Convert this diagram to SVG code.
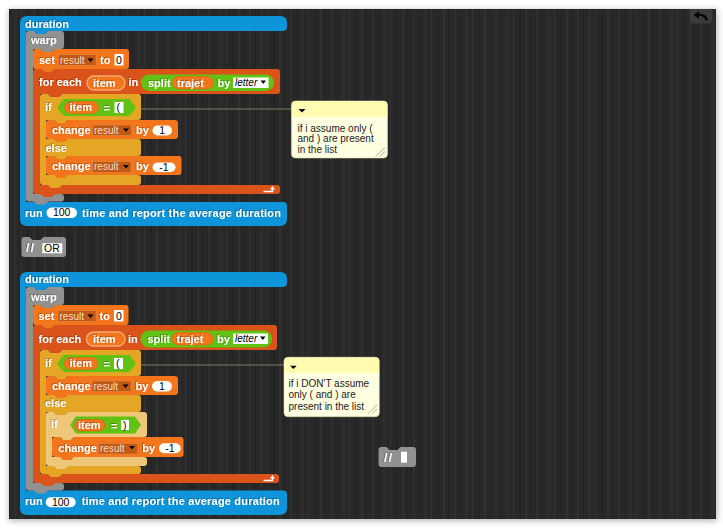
<svg xmlns="http://www.w3.org/2000/svg" width="723" height="528" viewBox="0 0 723 528">
<defs>
<pattern id="stripes" x="0" y="0" width="41" height="10" patternUnits="userSpaceOnUse">
<rect width="41" height="10" fill="#282828"/>
<rect x="3" width="2" height="10" fill="#2f2f2f"/>
<rect x="9" width="1" height="10" fill="#232323"/>
<rect x="14" width="3" height="10" fill="#2d2d2d"/>
<rect x="21" width="1" height="10" fill="#333333"/>
<rect x="27" width="2" height="10" fill="#242424"/>
<rect x="33" width="2" height="10" fill="#303030"/>
<rect x="38" width="1" height="10" fill="#222222"/>
</pattern>
<filter id="blur" x="-5%" y="-5%" width="110%" height="110%"><feGaussianBlur stdDeviation="3"/></filter>
<filter id="ts" x="-10%" y="-20%" width="120%" height="140%"><feDropShadow dx="-0.8" dy="-0.8" stdDeviation="0" flood-color="#000" flood-opacity="0.35"/></filter>
<style>
.l{font-family:"Liberation Sans",Arial,sans-serif;font-weight:bold;font-size:11px;fill:#fff;filter:url(#ts)}
.sl{font-family:"Liberation Sans",Arial,sans-serif;font-weight:bold;font-size:12px;letter-spacing:1.5px;fill:#fff;filter:url(#ts)}
.s{font-family:"Liberation Sans",Arial,sans-serif;font-size:10.5px;fill:#000}
.dd{font-family:"Liberation Sans",Arial,sans-serif;font-size:10px;fill:#f6dcc8}
.it{font-family:"Liberation Sans",Arial,sans-serif;font-size:10px;font-style:italic;fill:#000}
.c{font-family:"Liberation Sans",Arial,sans-serif;font-size:10px;fill:#222}
.blue{fill:#0d94d9}
.gray{fill:#919191}
.var{fill:#f3761d}
.list{fill:#d9531a}
.ctl{fill:#e5a626}
.ctl2{fill:#efc778}
.op{fill:#62c213}
.drop{fill:#bf5913;stroke:#e08a4a;stroke-width:0.6}
.slot{fill:#fff}
.oval{fill:#f3761d;stroke:#d8620f;stroke-width:0.6}
.upv{fill:#f3761d;stroke:#f8ab74;stroke-width:1.4}
.tri{fill:#000}
.cm{fill:#ffffe1;stroke:#d6d6a6;stroke-width:0.6}
.cmh{fill:#fffbb0}
.hdl{stroke:#9a9a80;stroke-width:0.8}
.wire{stroke:#7d7d66;stroke-width:1;fill:none}
</style>
</defs>

<g id="background">
<rect x="0" y="0" width="723" height="528" fill="#ffffff"/>
<rect x="9" y="10" width="708" height="511" fill="#000" opacity="0.3" filter="url(#blur)"/>
<rect x="9" y="9" width="707" height="510" fill="url(#stripes)"/>
</g>

<g id="undo-button">
<path d="M690,9 H712 V21 Q712,23.5 709.5,23.5 H692.5 Q690,23.5 690,21 Z" fill="#3b3b3b"/>
<polygon points="693.5,15 699,11.2 699,18.8" fill="#000"/>
<path d="M698,15 C703,14.6 706,16.2 707,20.5" stroke="#000" stroke-width="2.2" fill="none"/>
</g>

<g id="connectors">
<line class="wire" x1="141" y1="109" x2="291.5" y2="109"/>
<line class="wire" x1="141" y1="365" x2="284" y2="365"/>
</g>

<!-- ================= SCRIPT 1 ================= -->
<g id="s1-duration">
<path class="blue" d="M20,23 Q20,16 27,16 H280 Q287,16 287,23 V27 Q287,31 283,31 H48 L45,34 H37 L34,31 H26 V202 H283 Q287,202 287,206 V219 Q287,226 280,226 H27 Q20,226 20,219 Z"/>
<text class="l" x="25" y="27.5">duration</text>
<text class="l" x="25" y="216.5">run</text>
<rect class="slot" x="46.5" y="207.5" width="30.5" height="10.5" rx="5.25"/>
<text class="s" x="61.7" y="216.3" text-anchor="middle">100</text>
<text class="l" x="82" y="216.5" textLength="199" lengthAdjust="spacing">time and report the average duration</text>
</g>

<g id="s1-warp">
<path class="gray" d="M26,34 Q26,31 29,31 H34 L37,34 H45 L48,31 H61 Q64,31 64,34 V46 Q64,49 61,49 H55 L52,52 H44 L41,49 H33 V194 H61 Q64,194 64,197 V198.5 Q64,201.5 61,201.5 H48 L45,204.5 H37 L34,201.5 H29 Q26,201.5 26,198.5 Z"/>
<text class="l" x="31" y="44">warp</text>
</g>

<g id="s1-set">
<path class="var" d="M33,52 Q33,49 36,49 H41 L44,52 H52 L55,49 H126 Q129,49 129,52 V66 Q129,69 126,69 H55 L52,72 H44 L41,69 H36 Q33,69 33,66 Z"/>
<text class="l" x="39" y="63.5">set</text>
<rect class="drop" x="58.5" y="54.5" width="37.5" height="11"/>
<text class="dd" x="60" y="63.5">result</text>
<polygon class="tri" points="87.5,58.5 93.5,58.5 90.5,62"/>
<text class="l" x="100" y="63.5">to</text>
<rect class="slot" x="114.5" y="54" width="9" height="11.5"/>
<text class="s" x="116" y="63.5">0</text>
</g>

<g id="s1-foreach">
<path class="list" d="M33,72 Q33,69 36,69 H41 L44,72 H52 L55,69 H277 Q280,69 280,72 V91 Q280,94 277,94 H62 L59,97 H51 L48,94 H40 V185 H277 Q280,185 280,188 V191 Q280,194 277,194 H55 L52,197 H44 L41,194 H36 Q33,194 33,191 Z"/>
<text class="l" x="39" y="86">for each</text>
<rect class="upv" x="87" y="76" width="38" height="14" rx="7"/>
<text class="l" x="93" y="86.5">item</text>
<text class="l" x="128.5" y="86">in</text>
<rect class="op" x="141" y="74.5" width="133" height="16.5" rx="8.2"/>
<text class="l" x="148" y="86.5">split</text>
<rect class="oval" x="172.5" y="76.5" width="41" height="12.5" rx="6.2"/>
<text class="l" x="177" y="86.5">trajet</text>
<text class="l" x="217.5" y="86.5">by</text>
<rect class="slot" x="233" y="77.5" width="35.5" height="10.5"/>
<text class="it" x="235" y="86">letter</text>
<polygon class="tri" points="260.5,80.5 266,80.5 263.25,84"/>
<polyline points="263.5,191.5 272.5,191.5 272.5,189" fill="none" stroke="#fff" stroke-width="1.3"/>
<polygon points="270,189.5 272.5,186 275,189.5" fill="#fff"/>
</g>

<g id="s1-if">
<path class="ctl" d="M40,97 Q40,94 43,94 H48 L51,97 H59 L62,94 H138 Q141,94 141,97 V117 Q141,120 138,120 H68 L65,123 H57 L54,120 H46 V139 H138 Q141,139 141,142 V153 Q141,156 138,156 H68 L65,159 H57 L54,156 H46 V175 H138 Q141,175 141,178 V182 Q141,185 138,185 H62 L59,188 H51 L48,185 H43 Q40,185 40,182 Z"/>
<text class="l" x="45" y="110.5">if</text>
<polygon class="op" points="57,107.5 63.5,99 129.5,99 136,107.5 129.5,116 63.5,116"/>
<rect class="oval" x="64.5" y="101.5" width="34" height="12" rx="6"/>
<text class="l" x="69.5" y="111.3">item</text>
<text class="l" x="103.5" y="111.5">=</text>
<rect class="slot" x="114.5" y="102" width="9" height="11"/>
<text class="s" x="116.5" y="111">(</text>
<text class="l" x="45.5" y="151.5">else</text>
</g>

<g id="s1-change1">
<path class="var" d="M46,123 Q46,120 49,120 H54 L57,123 H65 L68,120 H175 Q178,120 178,123 V136 Q178,139 175,139 H68 L65,142 H57 L54,139 H49 Q46,139 46,136 Z"/>
<text class="l" x="52" y="133.5">change</text>
<rect class="drop" x="92.5" y="125" width="39" height="10.5"/>
<text class="dd" x="94" y="133.5">result</text>
<polygon class="tri" points="123,128.5 129,128.5 126,132"/>
<text class="l" x="136" y="133.5">by</text>
<rect class="slot" x="152.5" y="125.5" width="19.5" height="10" rx="5"/>
<text class="s" x="162.2" y="134.2" text-anchor="middle">1</text>
</g>

<g id="s1-change2">
<path class="var" d="M46,159 Q46,156 49,156 H54 L57,159 H65 L68,156 H178.5 Q181.5,156 181.5,159 V172 Q181.5,175 178.5,175 H68 L65,178 H57 L54,175 H49 Q46,175 46,172 Z"/>
<text class="l" x="52" y="170">change</text>
<rect class="drop" x="92.5" y="161.5" width="38.5" height="11"/>
<text class="dd" x="94" y="170">result</text>
<polygon class="tri" points="123,165 129,165 126,168.5"/>
<text class="l" x="136" y="170">by</text>
<rect class="slot" x="152.5" y="162.5" width="23" height="9.5" rx="4.75"/>
<text class="s" x="164" y="171" text-anchor="middle">-1</text>
</g>

<g id="s1-comment">
<rect class="cm" x="291.5" y="101" width="96" height="57" rx="4"/>
<path class="cmh" d="M291.8,117 V105 Q291.8,101.3 295.5,101.3 H383.5 Q387.2,101.3 387.2,105 V117 Z"/>
<polygon class="tri" points="298.5,109 305.5,109 302,112.5"/>
<text class="c" x="297.5" y="131.5">if i assume only (</text>
<text class="c" x="297.5" y="142">and ) are present</text>
<text class="c" x="297.5" y="152.5">in the list</text>
<line class="hdl" x1="375.5" y1="156.5" x2="385" y2="147.5"/>
<line class="hdl" x1="379.5" y1="156.5" x2="385" y2="151.5"/>
</g>

<g id="comment-or">
<path class="gray" d="M21.5,240 Q21.5,237 24.5,237 H29.5 L32.5,240 H40.5 L43.5,237 H63 Q66,237 66,240 V254 Q66,257 63,257 H24.5 Q21.5,257 21.5,254 Z"/>
<text class="sl" x="26" y="252">//</text>
<rect class="slot" x="42.3" y="243.3" width="20" height="10"/>
<text class="s" x="44" y="252">OR</text>
</g>

<!-- ================= SCRIPT 2 ================= -->
<g id="s2-duration">
<path class="blue" d="M20,279 Q20,272 27,272 H280 Q287,272 287,279 V283 Q287,287 283,287 H48 L45,290 H37 L34,287 H26 V490.5 H283 Q287,490.5 287,494.5 V508 Q287,515 280,515 H27 Q20,515 20,508 Z"/>
<text class="l" x="25" y="283">duration</text>
<text class="l" x="25" y="505">run</text>
<rect class="slot" x="45.7" y="497.3" width="30" height="10" rx="5"/>
<text class="s" x="60.7" y="505.8" text-anchor="middle">100</text>
<text class="l" x="81.7" y="505" textLength="198" lengthAdjust="spacing">time and report the average duration</text>
</g>

<g id="s2-warp">
<path class="gray" d="M26,290 Q26,287 29,287 H34 L37,290 H45 L48,287 H61 Q64,287 64,290 V302 Q64,305 61,305 H55 L52,308 H44 L41,305 H33 V483 H61 Q64,483 64,486 V487.5 Q64,490.5 61,490.5 H48 L45,493.5 H37 L34,490.5 H29 Q26,490.5 26,487.5 Z"/>
<text class="l" x="31" y="300.5">warp</text>
</g>

<g id="s2-set">
<path class="var" d="M33,308 Q33,305 36,305 H41 L44,308 H52 L55,305 H125.5 Q128.5,305 128.5,308 V322 Q128.5,325 125.5,325 H55 L52,328 H44 L41,325 H36 Q33,325 33,322 Z"/>
<text class="l" x="38.5" y="319.5">set</text>
<rect class="drop" x="58" y="310.5" width="38" height="11"/>
<text class="dd" x="59.5" y="319.5">result</text>
<polygon class="tri" points="87.5,314.5 93.5,314.5 90.5,318"/>
<text class="l" x="99.5" y="319.5">to</text>
<rect class="slot" x="114" y="310" width="9.5" height="11.5"/>
<text class="s" x="116" y="319.5">0</text>
</g>

<g id="s2-foreach">
<path class="list" d="M33,328 Q33,325 36,325 H41 L44,328 H52 L55,325 H274 Q277,325 277,328 V347 Q277,350 274,350 H62 L59,353 H51 L48,350 H40 V474 H276 Q279,474 279,477 V480 Q279,483 276,483 H55 L52,486 H44 L41,483 H36 Q33,483 33,480 Z"/>
<text class="l" x="38.5" y="342.5">for each</text>
<rect class="upv" x="86.5" y="332" width="38.5" height="14" rx="7"/>
<text class="l" x="93" y="342.5">item</text>
<text class="l" x="128" y="342.5">in</text>
<rect class="op" x="140.5" y="330.5" width="131.5" height="17" rx="8.5"/>
<text class="l" x="147.5" y="342.5">split</text>
<rect class="oval" x="172" y="332.5" width="41" height="12.5" rx="6.2"/>
<text class="l" x="176.5" y="342.5">trajet</text>
<text class="l" x="217" y="342.5">by</text>
<rect class="slot" x="233" y="333.5" width="35" height="10.5"/>
<text class="it" x="235" y="342">letter</text>
<polygon class="tri" points="260,336.5 265.5,336.5 262.75,340"/>
<polyline points="263.5,480.5 272.5,480.5 272.5,478" fill="none" stroke="#fff" stroke-width="1.3"/>
<polygon points="270,478.5 272.5,475 275,478.5" fill="#fff"/>
</g>

<g id="s2-if">
<path class="ctl" d="M40,353 Q40,350 43,350 H48 L51,353 H59 L62,350 H138 Q141,350 141,353 V373 Q141,376 138,376 H68 L65,379 H57 L54,376 H46 V395 H138 Q141,395 141,398 V409 Q141,412 138,412 H68 L65,415 H57 L54,412 H46 V466 H138 Q141,466 141,469 V471 Q141,474 138,474 H62 L59,477 H51 L48,474 H43 Q40,474 40,471 Z"/>
<text class="l" x="45" y="366.5">if</text>
<polygon class="op" points="57,363.5 63.5,355 129.5,355 136,363.5 129.5,372 63.5,372"/>
<rect class="oval" x="64" y="357.5" width="34" height="12" rx="6"/>
<text class="l" x="69.5" y="367.3">item</text>
<text class="l" x="103.5" y="367.5">=</text>
<rect class="slot" x="114" y="358" width="9" height="11"/>
<text class="s" x="116" y="367">(</text>
<text class="l" x="45" y="406.5">else</text>
</g>

<g id="s2-change1">
<path class="var" d="M46,379 Q46,376 49,376 H54 L57,379 H65 L68,376 H175 Q178,376 178,379 V392 Q178,395 175,395 H68 L65,398 H57 L54,395 H49 Q46,395 46,392 Z"/>
<text class="l" x="52" y="389.5">change</text>
<rect class="drop" x="92" y="381" width="39" height="10.5"/>
<text class="dd" x="93.5" y="389.5">result</text>
<polygon class="tri" points="122.5,384.5 128.5,384.5 125.5,388"/>
<text class="l" x="135.5" y="389.5">by</text>
<rect class="slot" x="152" y="381" width="20" height="10.5" rx="5.25"/>
<text class="s" x="162" y="390" text-anchor="middle">1</text>
</g>

<g id="s2-if-nested">
<path class="ctl2" d="M46,415 Q46,412 49,412 H54 L57,415 H65 L68,412 H144 Q147,412 147,415 V434 Q147,437 144,437 H74 L71,440 H63 L60,437 H52 V457 H144 Q147,457 147,460 V463 Q147,466 144,466 H68 L65,469 H57 L54,466 H49 Q46,466 46,463 Z"/>
<text class="l" x="51" y="427.5">if</text>
<polygon class="op" points="70,425 76,416.5 135,416.5 141,425 135,433.5 76,433.5"/>
<rect class="oval" x="74.5" y="419.5" width="30.5" height="11.5" rx="5.75"/>
<text class="l" x="78" y="429">item</text>
<text class="l" x="111" y="429.5">=</text>
<rect class="slot" x="121" y="420" width="8" height="10"/>
<text class="s" x="123" y="428.8">)</text>
</g>

<g id="s2-change2">
<path class="var" d="M52,440 Q52,437 55,437 H60 L63,440 H71 L74,437 H180.5 Q183.5,437 183.5,440 V454 Q183.5,457 180.5,457 H74 L71,460 H63 L60,457 H55 Q52,457 52,454 Z"/>
<text class="l" x="58.3" y="451.5">change</text>
<rect class="drop" x="98.3" y="443.3" width="39.4" height="10.7"/>
<text class="dd" x="100" y="451.8">result</text>
<polygon class="tri" points="129,446 135,446 132,449.5"/>
<text class="l" x="142.3" y="451.5">by</text>
<rect class="slot" x="159" y="443.3" width="21.7" height="10" rx="5"/>
<text class="s" x="169.9" y="451.9" text-anchor="middle">-1</text>
</g>

<g id="s2-comment">
<rect class="cm" x="284" y="357.3" width="95.3" height="59.4" rx="4"/>
<path class="cmh" d="M284.3,372.7 V361 Q284.3,357.6 288,357.6 H375.3 Q379,357.6 379,361 V372.7 Z"/>
<polygon class="tri" points="290,365.7 296.7,365.7 293.35,369"/>
<text class="c" x="288.5" y="387">if i DON'T assume</text>
<text class="c" x="288.5" y="398">only ( and ) are</text>
<text class="c" x="288.5" y="409.5">present in the list</text>
<line class="hdl" x1="368" y1="413.5" x2="377" y2="405"/>
<line class="hdl" x1="372" y1="413.5" x2="377" y2="409"/>
</g>

<g id="comment-empty">
<path class="gray" d="M378.5,450 Q378.5,447 381.5,447 H386.5 L389.5,450 H397.5 L400.5,447 H413 Q416,447 416,450 V464 Q416,467 413,467 H381.5 Q378.5,467 378.5,464 Z"/>
<text class="sl" x="384" y="462">//</text>
<rect class="slot" x="401" y="451.7" width="6" height="11"/>
</g>
</svg>
